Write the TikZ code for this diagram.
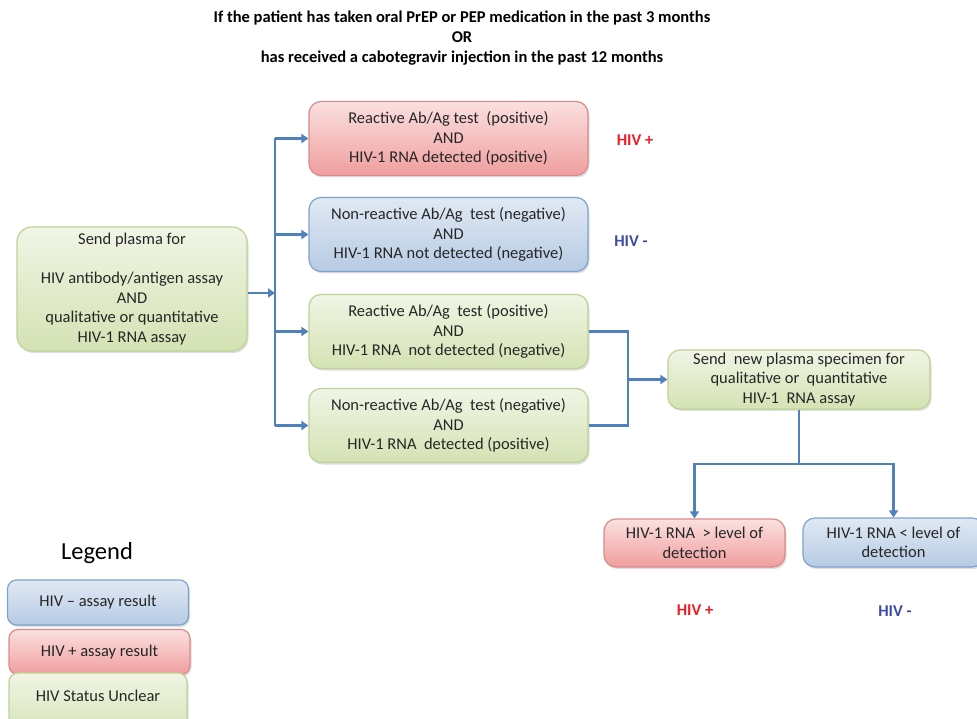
\documentclass[tikz,border=0pt]{standalone}
\usepackage{fontspec}
\setmainfont{Carlito}
\usetikzlibrary{shapes.geometric, arrows.meta, shadows}
\definecolor{linkblue}{HTML}{4F81BD}
\definecolor{textgray}{HTML}{262626}
\definecolor{greentop}{HTML}{F0F5E5}
\definecolor{greenbot}{HTML}{D4E2B3}
\definecolor{greenline}{HTML}{BDD295}
\definecolor{redtop}{HTML}{FBE0E0}
\definecolor{redbot}{HTML}{F09E9E}
\definecolor{redline}{HTML}{D98A8A}
\definecolor{bluetop}{HTML}{E0E9F4}
\definecolor{bluebot}{HTML}{B7CBE4}
\definecolor{blueline}{HTML}{7FA2CE}
\definecolor{hivred}{HTML}{EE1C25}
\definecolor{hivblue}{HTML}{3C4AA6}
\tikzstyle{box} = [rectangle, rounded corners=12pt, line width=1.2pt, inner sep=0pt, align=center, text=textgray, font=\fontsize{16.5}{19.5}\selectfont, drop shadow={opacity=0.25, shadow xshift=1.5pt, shadow yshift=-2pt}]
\tikzstyle{unclear} = [box, draw=greenline, top color=greentop, bottom color=greenbot]
\tikzstyle{positive} = [box, draw=redline, top color=redtop, bottom color=redbot]
\tikzstyle{negative} = [box, draw=blueline, top color=bluetop, bottom color=bluebot]
\tikzstyle{result} = [minimum width=279, minimum height=74]
\tikzstyle{legendbox} = [minimum width=181, minimum height=45, rounded corners=9pt]
\tikzstyle{link} = [line width=2.6pt, draw=linkblue]
\tikzstyle{arrow} = [link, -{Triangle[length=7pt,width=9pt]}]
\tikzstyle{status} = [font=\fontsize{16.5}{18}\selectfont\bfseries]

\begin{document}
\begin{tikzpicture}[x=1pt, y=-1pt, node distance=96pt]
        \useasboundingbox (0,0) rectangle (977,719);
        \node (title) [align=center, text=black, font=\fontsize{16.5}{20}\selectfont\bfseries] at (462,38) {If the patient has taken oral PrEP or PEP medication in the past 3 months\\OR\\has received a cabotegravir injection in the past 12 months};

        \node (sendplasma) [unclear, minimum width=230, minimum height=124, rounded corners=15pt] at (132,289) {Send plasma for\\[19.5pt]HIV antibody/antigen assay\\AND\\qualitative or quantitative\\HIV-1 RNA assay};

        \node (reactivedetected) [positive, result] at (448.5,138.5) {Reactive Ab/Ag test\ \ (positive)\\AND\\HIV-1 RNA detected (positive)};
        \node (nonreactivenotdetected) [negative, result, below of=reactivedetected] {Non-reactive Ab/Ag\ \ test (negative)\\AND\\HIV-1 RNA not detected (negative)};
        \node (reactivenotdetected) [unclear, result, below of=nonreactivenotdetected, yshift=-1pt] {Reactive Ab/Ag\ \ test (positive)\\AND\\HIV-1 RNA\ \ not detected (negative)};
        \node (nonreactivedetected) [unclear, result, below of=reactivenotdetected, yshift=2pt] {Non-reactive Ab/Ag\ \ test (negative)\\AND\\HIV-1 RNA\ \ detected (positive)};

        \node (hivpos) [status, text=hivred] at (635,140) {HIV +};
        \node (hivneg) [status, text=hivblue] at (631,241) {HIV -};

        \node (newspecimen) [unclear, minimum width=262, minimum height=59] at (799,379.5) {Send\ \ new plasma specimen for\\qualitative or\ \ quantitative\\HIV-1\ \ RNA assay};

        \node (abovelevel) [positive, minimum width=181, minimum height=48] at (694.5,543) {HIV-1 RNA\ \ > level of\\detection};
        \node (belowlevel) [negative, minimum width=181, minimum height=49] at (893.5,542.5) {HIV-1 RNA < level of\\detection};
        \node (finalpos) [status, text=hivred] at (695,610) {HIV +};
        \node (finalneg) [status, text=hivblue] at (895,611) {HIV -};

        % legend
        \node (legend) [text=black, font=\fontsize{24.5}{28}\selectfont] at (97,553) {Legend};
        \node (legendneg) [negative, legendbox] at (98,602.5) {HIV -- assay result};
        \node (legendpos) [positive, legendbox] at (99.5,652) {HIV + assay result};
        \node (legendunclear) [unclear, legendbox, minimum width=178, minimum height=66] at (98,706) {};
        \node at (98,696) [text=textgray, font=\fontsize{16.5}{18}\selectfont] {HIV Status Unclear};

        \coordinate (split) at (275,293);
        \draw [arrow] (sendplasma.east |- split) -- (split);
        \draw [link] (split |- reactivedetected.west) -- (split |- nonreactivedetected.west);
        \foreach \n in {reactivedetected, nonreactivenotdetected, reactivenotdetected, nonreactivedetected}
            \draw [arrow] (split |- \n.west) -- (\n.west);

        \coordinate (merge) at (628,379.5);
        \draw [link] (reactivenotdetected.east) -| (merge);
        \draw [link] (nonreactivedetected.east) -| (merge);
        \draw [arrow] (merge) -- (newspecimen.west);

        \coordinate (fork) at (799,464);
        \draw [link] (newspecimen.south) -- (fork);
        \draw [arrow] (fork) -| (abovelevel.north);
        \draw [arrow] (fork) -| (belowlevel.north);
    \end{tikzpicture}
\end{document}
